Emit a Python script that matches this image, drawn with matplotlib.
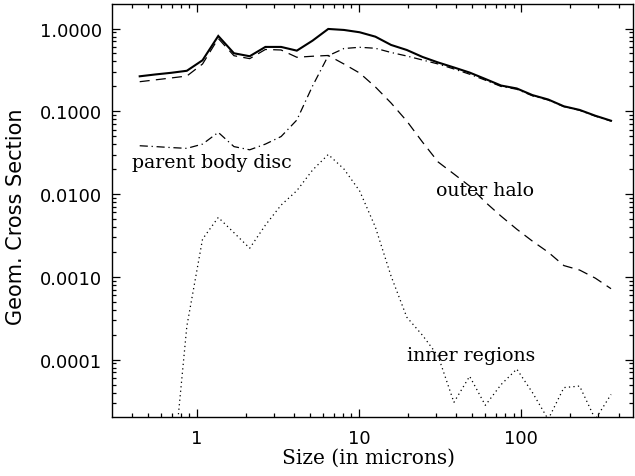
import matplotlib
matplotlib.use("Agg")
import matplotlib.pyplot as plt
from matplotlib.ticker import FixedLocator, FixedFormatter, LogLocator, NullFormatter

# Particle size bins (microns)
size_um = [0.445, 0.556, 0.695, 0.869, 1.086, 1.358, 1.697, 2.122, 2.652, 3.315,
           4.144, 5.18, 6.475, 8.094, 10.12, 12.65, 15.81, 19.76, 24.7, 30.87,
           38.59, 48.24, 60.3, 75.37, 94.21, 117.8, 147.2, 184.0, 230.0, 287.5, 359.4]

# Total geometric cross section (solid)
total = [0.265, 0.279, 0.292, 0.309, 0.414, 0.814, 0.503, 0.463, 0.600, 0.600,
         0.541, 0.714, 0.989, 0.962, 0.902, 0.798, 0.634, 0.551, 0.454, 0.389,
         0.339, 0.294, 0.246, 0.205, 0.189, 0.157, 0.139, 0.115, 0.104, 0.0885, 0.0770]

# Outer halo (dashed)
outer_halo = [0.228, 0.240, 0.253, 0.267, 0.373, 0.759, 0.470, 0.433, 0.559, 0.551,
              0.450, 0.463, 0.473, 0.373, 0.290, 0.197, 0.126, 0.0763, 0.0425, 0.0244,
              0.0175, 0.0125, 0.0080, 0.00542, 0.00377, 0.00270, 0.00199, 0.00137,
              0.00121, 0.000966, 0.00072]

# Parent body disc (dash-dot)
parent_disc = [0.0384, 0.0375, 0.0365, 0.0357, 0.0402, 0.0557, 0.0375, 0.0343, 0.0402, 0.0496,
               0.0785, 0.202, 0.470, 0.574, 0.594, 0.578, 0.514, 0.466, 0.417, 0.373,
               0.325, 0.281, 0.238, 0.200, 0.185, 0.154, 0.137, 0.114, 0.103, 0.0875, 0.0763]

# Inner regions (dotted)
inner_regions = [1.0e-7, 4.0e-7, 2.6e-6, 2.53e-4, 2.86e-3, 5.23e-3, 3.42e-3, 2.22e-3, 4.22e-3, 7.37e-3,
                 0.0110, 0.0195, 0.0301, 0.0201, 0.0109, 0.00399, 1.02e-3, 3.26e-4, 1.97e-4, 1.10e-4,
                 3.05e-5, 6.3e-5, 2.81e-5, 5.0e-5, 7.7e-5, 4.0e-5, 1.9e-5, 4.6e-5, 4.8e-5, 1.9e-5, 3.8e-5]

y_ticks = [1e-4, 1e-3, 1e-2, 1e-1, 1.0]
y_tick_labels = ["0.0001", "0.0010", "0.0100", "0.1000", "1.0000"]
x_ticks = [1, 10, 100]
x_tick_labels = ["1", "10", "100"]

W, H = 635, 477
fig = plt.figure(figsize=(W / 100, H / 100), dpi=100)
ax = fig.add_axes([112.3 / W, 1 - 418 / H, (633 - 112.3) / W, (418 - 5) / H])

ax.plot(size_um, total, color="black", lw=1.5, solid_joinstyle="miter")
ax.plot(size_um, outer_halo, color="black", lw=0.9, dashes=(8, 5))
ax.plot(size_um, parent_disc, color="black", lw=0.9, dashes=(6.5, 3, 1, 3))
ax.plot(size_um, inner_regions, color="black", lw=0.9, dashes=(1, 2.6))

ax.set_xscale("log")
ax.set_yscale("log")
ax.set_xlim(0.3015, 491)
ax.set_ylim(2.03e-5, 1.98)

ax.yaxis.set_major_locator(FixedLocator(y_ticks))
ax.yaxis.set_major_formatter(FixedFormatter(y_tick_labels))
ax.xaxis.set_major_locator(FixedLocator(x_ticks))
ax.xaxis.set_major_formatter(FixedFormatter(x_tick_labels))
ax.xaxis.set_minor_locator(LogLocator(base=10, subs=range(2, 10), numticks=20))
ax.yaxis.set_minor_locator(LogLocator(base=10, subs=range(2, 10), numticks=20))
ax.xaxis.set_minor_formatter(NullFormatter())
ax.yaxis.set_minor_formatter(NullFormatter())

ax.tick_params(which="both", direction="in", top=True, right=True, color="black", width=0.9)
ax.tick_params(which="major", length=6)
ax.tick_params(which="minor", length=3.2)
ax.tick_params(axis="x", which="major", pad=8.5, labelsize=13)
ax.tick_params(axis="y", which="major", pad=7.5, labelsize=13)
for lab in ax.get_xticklabels() + ax.get_yticklabels():
    lab.set_family("DejaVu Sans")
for s in ax.spines.values():
    s.set_linewidth(1.0)
    s.set_color("black")

serif = "DejaVu Serif"
ax.text(0.398, 0.0244, "parent body disc", family=serif, fontsize=13.6, ha="left", va="center")
ax.text(30.0, 0.0113, "outer halo", family=serif, fontsize=13.6, ha="left", va="center")
ax.text(19.8, 1.13e-4, "inner regions", family=serif, fontsize=13.6, ha="left", va="center")

fig.text(369 / W, 1 - 458 / H, "Size (in microns)", family=serif, fontsize=14.5,
         ha="center", va="center")
fig.text(15.7 / W, 1 - 216.5 / H, "Geom. Cross Section", family="DejaVu Sans", fontsize=15,
         rotation=90, ha="center", va="center")

fig.savefig("out.png", dpi=100)
